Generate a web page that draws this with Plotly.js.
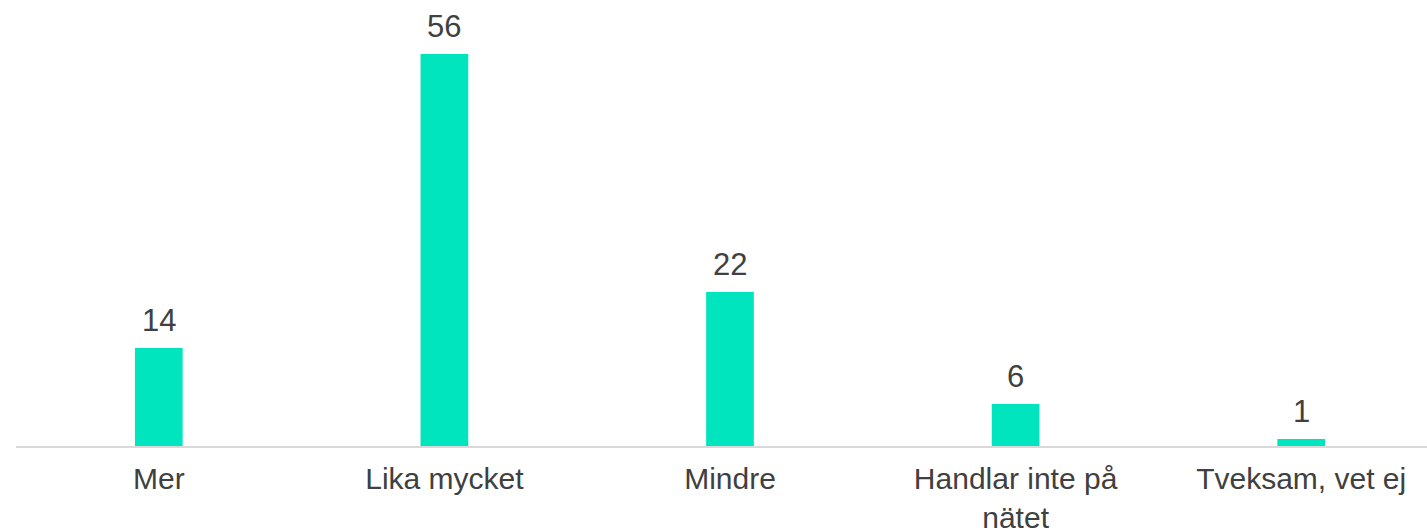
<!DOCTYPE html>
<html>
<head>
<meta charset="utf-8">
<script src="https://cdn.plot.ly/plotly-3.0.1.min.js"></script>
<style>html,body{margin:0;padding:0;background:#fff;}#chart{width:1427px;height:532px;}</style>
</head>
<body>
<div id="chart"></div>
<script>
const categories = ["Mer", "Lika mycket", "Mindre", "Handlar inte på<br>nätet", "Tveksam, vet ej"];
const values = [14, 56, 22, 6, 1];
const valueLabels = ["14", "56", "22", "6", "1"];

const barColor = "#00E5BE";
const textColor = "#404040";
const fontFamily = "'Liberation Sans', Arial, sans-serif";

const trace = {
  type: "bar",
  x: categories,
  y: values,
  width: 0.167,
  marker: {color: barColor},
  hoverinfo: "skip"
};

const annotations = categories.map((c, i) => ({
  x: c, y: values[i], xref: "x", yref: "y",
  text: valueLabels[i], showarrow: false,
  yanchor: "bottom", yshift: 8,
  font: {family: fontFamily, size: 31, color: textColor}
}));

const layout = {
  width: 1427, height: 532,
  margin: {l: 16, r: 0, t: 26, b: 86},
  paper_bgcolor: "#ffffff", plot_bgcolor: "#ffffff",
  showlegend: false,
  font: {family: fontFamily, size: 31, color: textColor},
  xaxis: {
    type: "category",
    range: [-0.5, 4.4405],
    showgrid: false, zeroline: false,
    showline: true, linecolor: "#d9d9d9", linewidth: 1.5,
    ticks: "", ticklabelstandoff: 5,
    tickfont: {family: fontFamily, size: 30, color: textColor},
    fixedrange: true
  },
  yaxis: {
    range: [0, 60],
    visible: false, showgrid: false, zeroline: false,
    fixedrange: true
  },
  annotations: annotations
};

Plotly.newPlot("chart", [trace], layout, {displayModeBar: false, staticPlot: true});
</script>
</body>
</html>
